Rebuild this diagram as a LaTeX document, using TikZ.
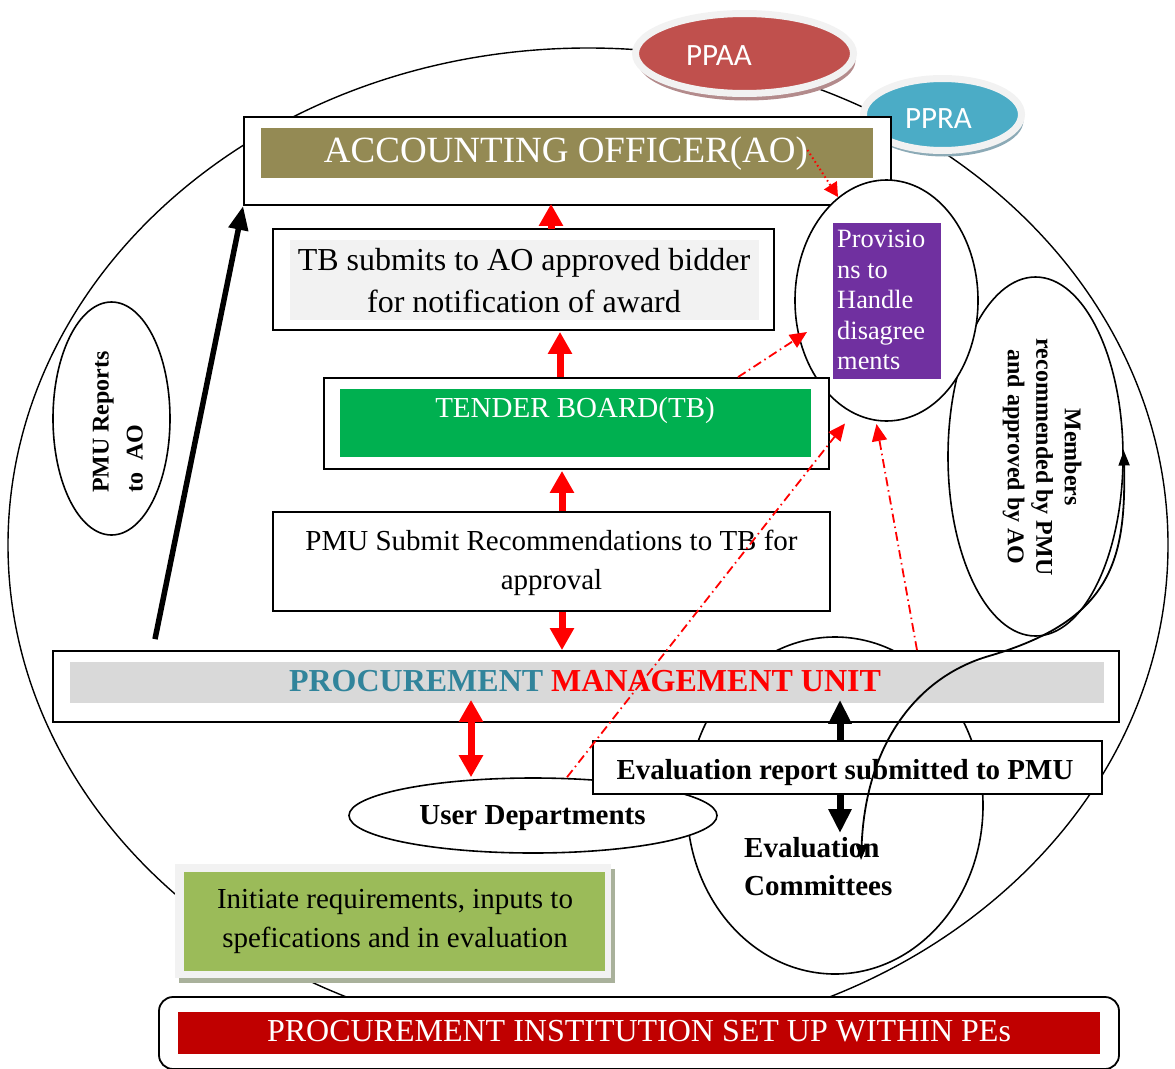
\documentclass[tikz,border=0pt]{standalone}
\usepackage{fontspec}
\setmainfont{Liberation Serif}
\newfontfamily\calibrifont{Carlito}
\usetikzlibrary{arrows.meta,shapes.geometric,calc,shadows}

\definecolor{aoolive}{HTML}{948A54}
\definecolor{tbgreen}{HTML}{00B050}
\definecolor{provpurple}{HTML}{7030A0}
\definecolor{pmugray}{HTML}{D9D9D9}
\definecolor{pmuteal}{HTML}{31849B}
\definecolor{paper}{HTML}{F2F2F2}
\definecolor{initgreen}{HTML}{9BBB59}
\definecolor{initshadow}{HTML}{A9B19B}
\definecolor{pered}{HTML}{C00000}
\definecolor{ppaared}{HTML}{C0504D}
\definecolor{ppaashadow}{HTML}{B38B8C}
\definecolor{pprablue}{HTML}{4BACC6}
\definecolor{pprashadow}{HTML}{8CAAB6}

\newcommand\fsz[2]{\fontsize{#1pt}{#2pt}\selectfont}

\begin{document}
\begin{tikzpicture}[x=1pt,y=-1pt,
  frame/.style={draw=black, line width=1.8pt, fill=white, rectangle, inner sep=0pt},
  band/.style={rectangle, inner sep=0pt, draw=none},
  oval/.style={draw=black, line width=1.6pt, fill=white, ellipse, inner sep=0pt},
  txt/.style={inner sep=0pt},
  badge/.style={ellipse, inner sep=0pt, draw=paper, line width=7pt},
  redarrow/.style={draw=red, line width=7pt, -{Triangle[width=23pt,length=22pt]}},
  redboth/.style={draw=red, line width=7pt, {Triangle[width=23pt,length=22pt]}-{Triangle[width=23pt,length=22pt]}},
  blackboth/.style={draw=black, line width=7pt, {Triangle[width=22pt,length=24pt]}-{Triangle[width=22pt,length=24pt]}},
  thickarrow/.style={draw=black, line width=5.5pt, -{Triangle[width=19pt,length=24pt]}},
  dashdot/.style={draw=red, line width=1.8pt, dash pattern=on 9pt off 4pt on 1.5pt off 4pt, -{Triangle[width=15pt,length=17pt]}},
  dotarrow/.style={draw=red, line width=2pt, dash pattern=on 1.5pt off 3pt, -{Triangle[width=15pt,length=14pt]}},
  curvearrow/.style={draw=black, line width=1.8pt, {Triangle[width=11pt,length=15pt]}-{Triangle[width=11pt,length=15pt]}}
]
\useasboundingbox (0,0) rectangle (1175,1068);

% procuring entity boundary
\node[draw=black, line width=1.4pt, ellipse, inner sep=0pt, minimum width=1160pt, minimum height=994pt] (pe) at (588,545) {};

% oversight bodies
\node[badge, fill=ppaared, minimum width=218pt, minimum height=80pt,
      drop shadow={shadow xshift=2pt, shadow yshift=-7pt, fill=ppaashadow, opacity=1}] (ppaa) at (744.5,53.5) {};
\node[txt, anchor=base, text=white, font={\calibrifont\fsz{31}{31}}] (ppaatxt) at (719,65) {PPAA};
\node[badge, fill=pprablue, minimum width=158pt, minimum height=72pt,
      drop shadow={shadow xshift=2pt, shadow yshift=-6pt, fill=pprashadow, opacity=1}] (ppra) at (942.5,114.5) {};
\node[txt, anchor=base, text=white, font={\calibrifont\fsz{31}{31}}] (ppratxt) at (938.5,128) {PPRA};

% evaluation committees and members
\node[oval, minimum width=296pt, minimum height=337pt] (eval) at (835,805.5) {};
\node[oval, minimum width=175pt, minimum height=359pt] (members) at (1035.5,456.5) {};
\node[txt, rotate=-90, align=center, font={\fsz{24}{28.5}\bfseries}] (memberstxt) at (1042,457) {Members\\recommended by PMU\\and approved by AO};

% accounting officer
\node[frame, minimum width=647pt, minimum height=88pt] (ao) at (567.5,161) {};
\node[band, fill=aoolive, minimum width=612pt, minimum height=50pt] (aofill) at (567,153) {};
\node[txt, anchor=base, text=white, font={\fsz{37}{40}}] (aotxt) at (566,162) {ACCOUNTING OFFICER(AO)};

% disagreement provisions
\node[oval, minimum width=183pt, minimum height=241pt] (prov) at (886.5,300.5) {};
\node[band, fill=provpurple, minimum width=108pt, minimum height=156pt] (provbox) at (887,301) {};
\node[txt, anchor=west, align=left, text=white, font={\fsz{26.4}{30.5}}] (provtxt) at (837,300) {Provisio\\ns to\\Handle\\disagree\\ments};

% tender board chain
\node[frame, minimum width=501pt, minimum height=101pt] (tbsub) at (523.5,279.5) {};
\node[band, fill=paper, minimum width=469pt, minimum height=80pt] (tbsubfill) at (524.5,280) {};
\node[txt, align=center, font={\fsz{32}{42}}] (tbsubtxt) at (524,281) {TB submits to AO approved bidder\\for notification of award};

\node[frame, minimum width=505pt, minimum height=91pt] (tb) at (576.5,423.5) {};
\node[band, fill=tbgreen, minimum width=471pt, minimum height=68pt] (tbfill) at (575.5,423) {};
\node[txt, anchor=base, text=white, font={\fsz{29}{32}}] (tbtxt) at (575,417) {TENDER BOARD(TB)};

\node[frame, minimum width=557pt, minimum height=99pt] (pmusub) at (551.5,561.5) {};
\node[txt, align=center, font={\fsz{29}{39}}] (pmusubtxt) at (551.5,563) {PMU Submit Recommendations to TB for\\approval};

% PMU reporting line
\node[oval, minimum width=117pt, minimum height=233pt] (pmurep) at (111.5,418.5) {};
\node[txt, rotate=90, align=left, font={\fsz{24}{34}\bfseries}] (pmureptxt) at (118,422) {PMU Reports\\to~ AO};

% procurement management unit
\node[frame, minimum width=1066pt, minimum height=71pt] (pmu) at (586,686.5) {};
\node[band, fill=pmugray, minimum width=1034pt, minimum height=41pt] (pmufill) at (587,682.5) {};
\node[txt, anchor=base, font={\fsz{32}{36}\bfseries}] (pmutxt) at (585,691) {\textcolor{pmuteal}{PROCUREMENT} \textcolor{red}{MANAGEMENT UNIT}};

% user departments
\node[oval, minimum width=368pt, minimum height=75pt] (userdept) at (533,815.5) {};
\node[txt, anchor=base, font={\fsz{29}{32}\bfseries}] (userdepttxt) at (532.5,824) {User Departments};

% evaluation report link
\draw[blackboth] ($(pmu.south)+(254,-23)$) -- ($(eval.center)+(5,27.5)$);
\node[frame, minimum width=509pt, minimum height=53pt] (evrep) at (847.5,767.5) {};
\node[txt, anchor=base, font={\fsz{29}{32}\bfseries}] (evreptxt) at (845,779) {Evaluation report submitted to PMU};
\node[txt, anchor=west, align=left, font={\fsz{29}{38}\bfseries}] (evaltxt) at (744,867) {Evaluation\\Committees};

% user department role
\node[band, fill=paper, minimum width=436pt, minimum height=114pt,
      drop shadow={shadow xshift=4pt, shadow yshift=-5pt, fill=initshadow, opacity=1}] (initframe) at (393,921) {};
\node[band, fill=initgreen, minimum width=421pt, minimum height=99pt] (init) at (394.5,921.5) {};
\node[txt, align=center, font={\fsz{29}{39}}] (inittxt) at (395,921.6) {Initiate requirements, inputs to\\spefications and in evaluation};

% institutional set up banner
\node[frame, rounded corners=14pt, minimum width=960pt, minimum height=72pt] (pebox) at (639,1033) {};
\node[band, fill=pered, minimum width=922pt, minimum height=42pt] (pefill) at (639,1033) {};
\node[txt, anchor=base, text=white, font={\fsz{32}{36}}] (petxt) at (639,1041) {PROCUREMENT INSTITUTION SET UP WITHIN PEs};

% approval flow
\draw[redarrow] ($(tbsub.north)+(27.5,1)$) -- ($(ao.south)+(-16.5,-2)$);
\draw[redarrow] ($(tb.north)+(-16.5,0)$) -- ($(tbsub.south)+(36.5,1)$);
\draw[redarrow] ($(pmusub.north)+(10.5,0)$) -- ($(tb.south)+(-14.5,1)$);
\draw[redarrow] ($(pmusub.south)+(10.5,0)$) -- ($(pmu.north)+(-24,0)$);
\draw[redboth] ($(pmu.south)+(-115,-23)$) -- ($(userdept.north)+(-62,0)$);
\draw[thickarrow] ($(pmu.north)+(-431,-11)$) -- (ao.south west);

% routes to the disagreement provisions
\draw[dotarrow] ($(ao.center)+(240,-11)$) -- ($(prov.center)+(-48.5,-103.5)$);
\draw[dashdot] ($(tb.north)+(161.5,0)$) -- ($(prov.center)+(-79.5,31.5)$);
\draw[dashdot] ($(userdept.north)+(34,0)$) -- ($(prov.center)+(-41.5,123)$);
\draw[dashdot] ($(pmu.north)+(331,0)$) -- ($(prov.center)+(-10,123.5)$);

% committee membership link
\draw[curvearrow] ($(eval.center)+(26,54.5)$) .. controls (866,740) and (920,676) .. (989,656)
  .. controls (1112,620) and (1126,560) .. ($(members.east)+(0,-6)$);
\end{tikzpicture}
\end{document}
